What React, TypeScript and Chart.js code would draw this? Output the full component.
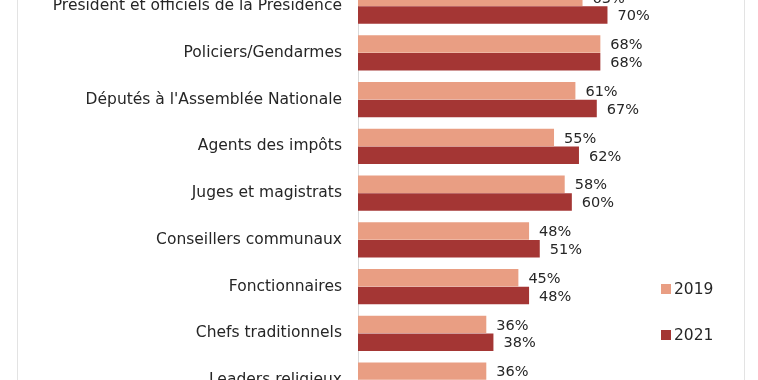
import React, { useEffect, useRef } from "react";
import { Chart, registerables } from "chart.js";

Chart.register(...registerables);

const categories = [
  "Président et officiels de la Présidence",
  "Policiers/Gendarmes",
  "Députés à l'Assemblée Nationale",
  "Agents des impôts",
  "Juges et magistrats",
  "Conseillers communaux",
  "Fonctionnaires",
  "Chefs traditionnels",
  "Leaders religieux",
];
const series2019 = [63, 68, 61, 55, 58, 48, 45, 36, 36];
const series2021 = [70, 68, 67, 62, 60, 51, 48, 38, 39];
const seriesNames = ["2019", "2021"];
const colors = ["#E99E83", "#A43634"];

const FONT = "'DejaVu Sans', 'Noto Sans', sans-serif";

const valueLabels = {
  id: "valueLabels",
  afterDatasetsDraw(chart: any) {
    const ctx = chart.ctx;
    ctx.save();
    ctx.font = `14.5px ${FONT}`;
    ctx.fillStyle = "#262626";
    ctx.textAlign = "left";
    ctx.textBaseline = "middle";
    chart.data.datasets.forEach((ds: any, di: number) => {
      const meta = chart.getDatasetMeta(di);
      meta.data.forEach((bar: any, i: number) => {
        ctx.fillText(`${ds.data[i]}%`, bar.x + 10, bar.y + 1.5);
      });
    });
    ctx.restore();
  },
};

export default function App() {
  const ref = useRef<HTMLCanvasElement | null>(null);

  useEffect(() => {
    if (!ref.current) return;
    const chart = new Chart(ref.current, {
      type: "bar",
      data: {
        labels: categories,
        datasets: [
          {
            label: seriesNames[0],
            data: series2019,
            backgroundColor: colors[0],
            borderWidth: 0,
            categoryPercentage: 0.76,
            barPercentage: 0.98,
          },
          {
            label: seriesNames[1],
            data: series2021,
            backgroundColor: colors[1],
            borderWidth: 0,
            categoryPercentage: 0.76,
            barPercentage: 0.98,
          },
        ],
      },
      options: {
        indexAxis: "y",
        responsive: false,
        maintainAspectRatio: false,
        animation: false,
        layout: { padding: { top: 2.8, bottom: 6.6, left: 0, right: 43.6 } },
        plugins: {
          legend: { display: false },
          tooltip: { enabled: false },
        },
        scales: {
          x: { display: false, min: 0, max: 100 },
          y: {
            grid: { display: false, drawTicks: false },
            border: { display: true, color: "#D9D9D9", width: 1 },
            ticks: {
              padding: 16,
              color: "#262626",
              font: { family: FONT, size: 15.5 },
            },
            afterFit: (scale: any) => {
              scale.width = 358;
              scale.paddingTop = 0;
              scale.paddingBottom = 0;
            },
          },
        },
      },
      plugins: [valueLabels],
    });
    return () => chart.destroy();
  }, []);

  const legendItem = (name: string, color: string, top: number) => (
    <div
      key={name}
      style={{
        position: "absolute",
        left: 661,
        top: top,
        display: "flex",
        alignItems: "center",
        height: 20,
        fontFamily: FONT,
        fontSize: 15.5,
        color: "#262626",
      }}
    >
      <div style={{ width: 10, height: 10, background: color, marginRight: 3 }} />
      <span>{name}</span>
    </div>
  );

  return (
    <div
      style={{
        position: "fixed",
        left: 0,
        top: 0,
        width: 758,
        height: 380,
        overflow: "hidden",
        background: "#fff",
      }}
    >
      <canvas
        ref={ref}
        width={758}
        height={430}
        style={{ position: "absolute", left: 0, top: -20, width: 758, height: 430 }}
      />
      <div style={{ position: "absolute", left: 17, top: 0, width: 1, height: 380, background: "#E3E3E3" }} />
      <div style={{ position: "absolute", left: 744, top: 0, width: 1, height: 380, background: "#E3E3E3" }} />
      {legendItem(seriesNames[0], colors[0], 279)}
      {legendItem(seriesNames[1], colors[1], 325)}
    </div>
  );
}
